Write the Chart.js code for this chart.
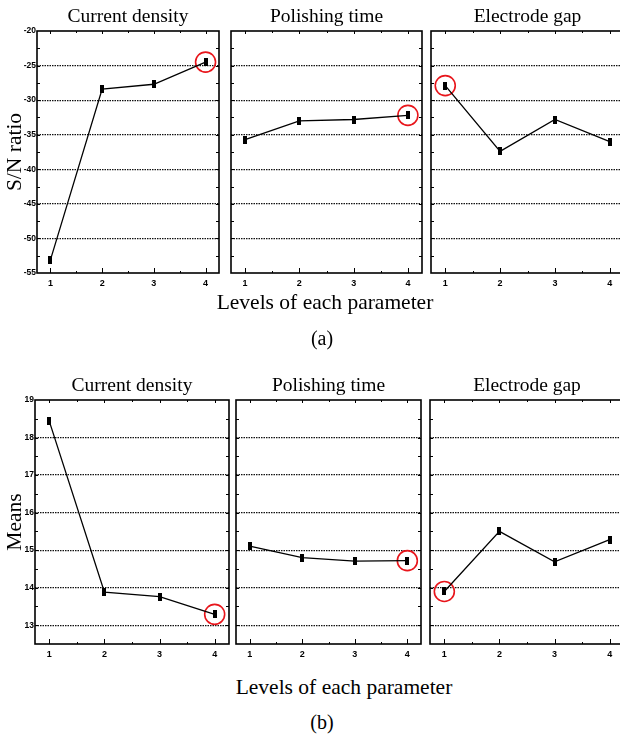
<!DOCTYPE html>
<html>
<head>
<meta charset="utf-8">
<script src="https://cdn.jsdelivr.net/npm/chart.js@4.4.1/dist/chart.umd.min.js"></script>
<style>
  html, body { margin: 0; padding: 0; background: #fff; overflow: hidden; }
  body { width: 620px; height: 737px; position: relative; }
  canvas { position: absolute; }
  .label {
    position: absolute;
    font-family: 'Liberation Serif', 'Times New Roman', serif;
    color: #000;
    white-space: nowrap;
    transform: translate(-50%, -50%);
  }
</style>
</head>
<body>
<canvas id="a0" width="222" height="300" style="left:0;top:0"></canvas>
<canvas id="a1" width="197" height="300" style="left:228px;top:0"></canvas>
<canvas id="a2" width="199" height="300" style="left:428px;top:0"></canvas>
<div class="label" style="left:325px;top:302px;font-size:21.5px">Levels of each parameter</div>
<div class="label" style="left:322px;top:338px;font-size:20px">(a)</div>

<canvas id="b0" width="232" height="302" style="left:0;top:369px"></canvas>
<canvas id="b1" width="191" height="302" style="left:233px;top:369px"></canvas>
<canvas id="b2" width="200" height="302" style="left:427px;top:369px"></canvas>
<div class="label" style="left:344px;top:687px;font-size:21.5px">Levels of each parameter</div>
<div class="label" style="left:322px;top:722px;font-size:20px">(b)</div>

<script>
const factors = ['Current density', 'Polishing time', 'Electrode gap'];
const levels = [1, 2, 3, 4];

// (a) S/N ratio for each level
const snCurrent = [-53.1, -28.4, -27.7, -24.5];
const snTime = [-35.7, -33.0, -32.8, -32.2];
const snGap = [-27.9, -37.4, -32.8, -36.0];
const snTicks = [-55, -50, -45, -40, -35, -30, -25, -20];
const snBest = [4, 4, 1]; // circled level

// (b) means for each level
const meanCurrent = [18.43, 13.88, 13.76, 13.29];
const meanTime = [15.11, 14.80, 14.71, 14.72];
const meanGap = [13.90, 15.50, 14.69, 15.28];
const meanTicks = [13, 14, 15, 16, 17, 18, 19];
const meanBest = [4, 4, 1];

const serif = "'Liberation Serif', 'Times New Roman', serif";
const sans = "'Liberation Sans', Arial, sans-serif";

// small upright black block used as the point marker
const marker = document.createElement('canvas');
marker.width = 4;
marker.height = 8;
const mctx = marker.getContext('2d');
mctx.fillStyle = '#000';
mctx.fillRect(0, 0, 4, 8);

// box round the plot area with inward tick marks
const framePlugin = {
  id: 'frame',
  beforeDatasetsDraw(chart, args, opts) {
    const { ctx, chartArea: a, scales: { x, y } } = chart;
    ctx.save();
    ctx.strokeStyle = '#000';
    ctx.lineWidth = 1;
    ctx.beginPath();
    for (let v = y.min + opts.minor; v < y.max; v += opts.minor) {
      const py = Math.round(y.getPixelForValue(v)) + 0.5;
      ctx.moveTo(a.left, py); ctx.lineTo(a.left + 3, py);
      ctx.moveTo(a.right, py); ctx.lineTo(a.right - 3, py);
    }
    levels.forEach((lv, i) => {
      const px = Math.round(x.getPixelForValue(lv)) + 0.5;
      ctx.moveTo(px, a.bottom); ctx.lineTo(px, a.bottom - 5);
      ctx.moveTo(px, a.top); ctx.lineTo(px, a.top + 3);
      const half = Math.round(x.getPixelForValue(lv + 0.5)) + 0.5;
      if (i < levels.length - 1) {
        ctx.moveTo(half, a.bottom); ctx.lineTo(half, a.bottom - 2);
        ctx.moveTo(half, a.top); ctx.lineTo(half, a.top + 2);
      }
    });
    ctx.stroke();
    ctx.lineWidth = 1.6;
    ctx.strokeRect(a.left, a.top, a.right - a.left, a.bottom - a.top);
    ctx.restore();
  }
};

const panels = [
  { id: 'a0', name: factors[0], values: snCurrent, best: snBest[0], ticks: snTicks, min: -55, max: -20, minor: 2.5, yTitle: 'S/N ratio', yWidth: 37 },
  { id: 'a1', name: factors[1], values: snTime, best: snBest[1], ticks: snTicks, min: -55, max: -20, minor: 2.5, yTitle: '', yWidth: 3 },
  { id: 'a2', name: factors[2], values: snGap, best: snBest[2], ticks: snTicks, min: -55, max: -20, minor: 2.5, yTitle: '', yWidth: 3 },
  { id: 'b0', name: factors[0], values: meanCurrent, best: meanBest[0], ticks: meanTicks, min: 12.5, max: 19, minor: 0.5, yTitle: 'Means', yWidth: 35 },
  { id: 'b1', name: factors[1], values: meanTime, best: meanBest[1], ticks: meanTicks, min: 12.5, max: 19, minor: 0.5, yTitle: '', yWidth: 3 },
  { id: 'b2', name: factors[2], values: meanGap, best: meanBest[2], ticks: meanTicks, min: 12.5, max: 19, minor: 0.5, yTitle: '', yWidth: 3 },
];

panels.forEach(p => {
  const showY = p.yTitle !== '';
  new Chart(document.getElementById(p.id), {
    type: 'line',
    data: {
      datasets: [
        {
          data: levels.map((lv, i) => ({ x: lv, y: p.values[i] })),
          borderColor: '#000',
          borderWidth: 1.3,
          pointStyle: marker,
          pointRadius: 4,
          tension: 0,
        },
        {
          data: [{ x: p.best, y: p.values[p.best - 1] }],
          showLine: false,
          pointStyle: 'circle',
          pointRadius: 10,
          pointBorderWidth: 1.6,
          pointBorderColor: '#e8151b',
          pointBackgroundColor: 'rgba(0,0,0,0)',
        },
      ],
    },
    options: {
      responsive: false,
      animation: false,
      events: [],
      layout: { autoPadding: false, padding: { right: 3 } },
      plugins: {
        legend: { display: false },
        tooltip: { enabled: false },
        title: {
          display: true,
          text: p.name,
          fullSize: false,
          color: '#000',
          font: { family: serif, size: 19.5, weight: 'normal', lineHeight: 1.2 },
          padding: { top: 5, bottom: 2.6 },
        },
        frame: { minor: p.minor },
      },
      scales: {
        x: {
          type: 'linear',
          min: 0.74,
          max: 4.26,
          afterBuildTicks: s => { s.ticks = levels.map(v => ({ value: v })); },
          afterFit: s => { s.height = 27; },
          grid: { display: false, drawTicks: false },
          border: { display: false },
          ticks: { color: '#000', padding: 5, font: { family: sans, size: 9, weight: 'bold' } },
        },
        y: {
          min: p.min,
          max: p.max,
          afterBuildTicks: s => { s.ticks = p.ticks.map(v => ({ value: v })); },
          afterFit: s => { s.width = p.yWidth; },
          grid: {
            drawTicks: false,
            lineWidth: 1.2,
            color: c => (c.tick && (c.tick.value === p.min || c.tick.value === p.max)) ? 'rgba(0,0,0,0)' : '#111',
          },
          border: { display: false, dash: [1.5, 1] },
          ticks: { display: showY, color: '#000', padding: 1, font: { family: sans, size: 8.5, weight: 'bold' } },
          title: {
            display: showY,
            text: p.yTitle,
            color: '#000',
            font: { family: serif, size: 21.5 },
            padding: { top: 2.5, bottom: 0 },
          },
        },
      },
    },
    plugins: [framePlugin],
  });
});
</script>
</body>
</html>
